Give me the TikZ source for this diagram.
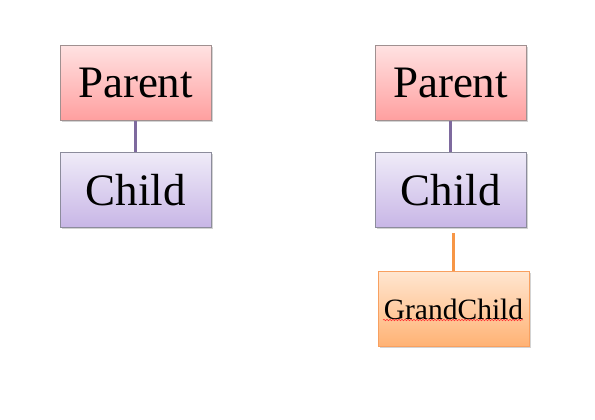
\documentclass[tikz,border=0pt]{standalone}
\usepackage{fontspec}
\setmainfont{Liberation Serif}
\usetikzlibrary{shadows,decorations.pathmorphing}
\definecolor{pbord}{HTML}{A09090}
\definecolor{ptop}{HTML}{FFE2E2}
\definecolor{pbot}{HTML}{FF9F9F}
\definecolor{ctop}{HTML}{EFEBF8}
\definecolor{cbot}{HTML}{C8B6E6}
\definecolor{cbord}{HTML}{8C8C9C}
\definecolor{gtop}{HTML}{FFE6D0}
\definecolor{gbot}{HTML}{FFB274}
\definecolor{gbord}{HTML}{F8A060}
\definecolor{purpline}{HTML}{7E6A9E}
\definecolor{orline}{HTML}{F79646}
\tikzset{
  box/.style={rectangle, minimum width=151pt, minimum height=75pt, inner sep=0pt,
    drop shadow={opacity=0.35, shadow xshift=1.5pt, shadow yshift=-1.8pt}},
  parentbox/.style={box, draw=pbord, line width=0.8pt, top color=ptop, bottom color=pbot, font=\fontsize{45}{50}\selectfont},
  childbox/.style={box, draw=cbord, line width=0.8pt, top color=ctop, bottom color=cbot, font=\fontsize{45}{50}\selectfont},
  gcbox/.style={box, draw=gbord, line width=1pt, top color=gtop, bottom color=gbot, font=\fontsize{29.5}{32}\selectfont},
  pline/.style={draw=purpline, line width=2.5pt},
  oline/.style={draw=orline, line width=3pt},
}
\begin{document}
\begin{tikzpicture}[x=1pt,y=-1pt]
\useasboundingbox (0,0) rectangle (595,420);
\node[parentbox] (p1) at (135.5,83) {Parent};
\node[childbox] (c1) at (135.5,190) {Child};
\node[parentbox] (p2) at (450.5,83) {Parent};
\node[childbox] (c2) at (450.5,190) {Child};
\node[gcbox] (gc) at (453.5,309) {GrandChild};
\coordinate (gctop) at (453.5,233);
\draw[pline] (p1.south) -- (c1.north);
\draw[pline] (p2.south) -- (c2.north);
\draw[oline] (gctop) -- (gc.north);
\coordinate (sqa) at (383,320);
\coordinate (sqb) at (523,320);
\draw[red!80, line width=0.6pt, decorate, decoration={snake, segment length=3pt, amplitude=0.7pt}] (sqa) -- (sqb);
\end{tikzpicture}
\end{document}
